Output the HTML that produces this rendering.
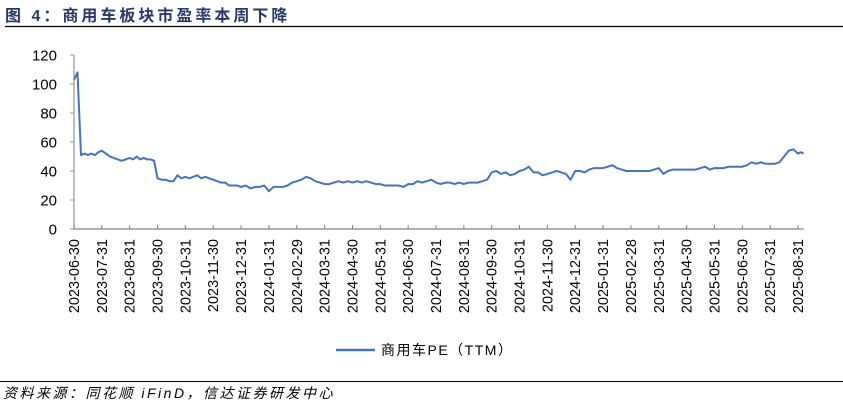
<!DOCTYPE html>
<html><head><meta charset="utf-8"><style>
body{margin:0;background:#fff;width:843px;height:407px;overflow:hidden;font-family:"Liberation Sans","Noto Sans CJK SC",sans-serif}
</style></head><body>
<svg width="843" height="407" xmlns="http://www.w3.org/2000/svg">
<text x="5" y="21" font-size="16" font-weight="bold" fill="#243a6b" letter-spacing="3" font-family="Liberation Sans,Noto Sans CJK SC,sans-serif">图 4：商用车板块市盈率本周下降</text>
<line x1="5" y1="26.5" x2="843" y2="26.5" stroke="#000" stroke-width="1.2"/>
<g id="axes"></g>
<g id="series"></g>
<g>
<line x1="336" y1="350" x2="375" y2="350" stroke="#4472c4" stroke-width="2.5"/>
<text x="381" y="355" font-size="14" fill="#000" letter-spacing="1.5">商用车PE（TTM）</text>
</g>
<line x1="0" y1="381.5" x2="843" y2="381.5" stroke="#000" stroke-width="1"/>
<text x="3" y="398" font-size="14" font-style="italic" fill="#000" letter-spacing="2.5">资料来源：同花顺 iFinD，信达证券研发中心</text>
</svg>
<script>
const tickLabels=["2023-06-30","2023-07-31","2023-08-31","2023-09-30","2023-10-31","2023-11-30","2023-12-31","2024-01-31","2024-02-29","2024-03-31","2024-04-30","2024-05-31","2024-06-30","2024-07-31","2024-08-31","2024-09-30","2024-10-31","2024-11-30","2024-12-31","2025-01-31","2025-02-28","2025-03-31","2025-04-30","2025-05-31","2025-06-30","2025-07-31","2025-08-31"];
const yTicks=[0,20,40,60,80,100,120];
// PE values grouped by month interval (month m = after tickLabels[m])
const monthValues=[
[103,108,51,52,51,52,51,53],
[54,52,50,49,48,47,48],
[49,48,50,48,49,48,48,47],
[35,34,34,33,33,37,35],
[36,35,36,37,35,36,35],
[34,33,32,32,30,30,30],
[29,30,28,29,29,30],
[26,29,29,29,30,32],
[33,34,36,35,33,32],
[31,31,32,33,32,33],
[32,33,32,33,32,31],
[31,30,30,30,30,29],
[31,31,33,32,33,34],
[32,31,32,32,31,32],
[31,32,32,32,33,34],
[39,40,38,39,37,38],
[40,41,43,39,39,37],
[38,39,40,39,38,34],
[40,40,39,41,42,42],
[42,43,44,42,41,40],
[40,40,40,40,40,41],
[42,38,40,41,41,41],
[41,41,41,42,43,41],
[42,42,42,43,43,43],
[43,44,46,45,46,45],
[45,45,46,50,54,55],
[52,53,52]
];
const X0=74,X1=798,Y0=229,Y1=55,LAST_SPAN=0.2;
const NS="http://www.w3.org/2000/svg";
const yS=v=>Y0-v/120*(Y0-Y1);
const xM=t=>X0+t*(X1-X0)/(tickLabels.length-1);
const ax=document.getElementById('axes');
function mk(t,a,p){const e=document.createElementNS(NS,t);for(const k in a)e.setAttribute(k,a[k]);p.appendChild(e);return e;}
let l=mk('line',{x1:X0,y1:Y1,x2:X0,y2:Y0,stroke:'#9a9a9a','stroke-width':1.3},ax);


l=mk('line',{x1:X0,y1:Y0,x2:xM(26+LAST_SPAN),y2:Y0,stroke:'#808080','stroke-width':1.3},ax);


yTicks.forEach(v=>{
 const t=mk('line',{x1:X0-4,y1:yS(v),x2:X0,y2:yS(v),stroke:'#9a9a9a'},ax);
 
 
 const tx=mk('text',{x:57,y:yS(v)+5.5,'font-size':15,'text-anchor':'end',fill:'#000'},ax);
 tx.textContent=v;
 
 
});
tickLabels.forEach((s,i)=>{
 const x=xM(i);
 const t=mk('line',{x1:x,y1:Y0-4,x2:x,y2:Y0,stroke:'#808080'},ax);
 
 
 const tx=mk('text',{x:0,y:0,'font-size':14.5,'text-anchor':'end',fill:'#000',transform:`translate(${x+5},239) rotate(-90)`},ax);
 tx.textContent=s;
 
 
});
const pts=[];
monthValues.forEach((arr,m)=>{
 const last=m===monthValues.length-1;
 arr.forEach((v,j)=>{
  const frac=last?(arr.length>1?j/(arr.length-1)*LAST_SPAN:0):j/arr.length;
  pts.push(xM(m+frac).toFixed(1)+','+yS(v).toFixed(1));
 });
});
const p=mk('polyline',{points:pts.join(' '),fill:'none',stroke:'#4472c4','stroke-width':2,'stroke-linejoin':'round'},document.getElementById('series'));


</script>
</body></html>
